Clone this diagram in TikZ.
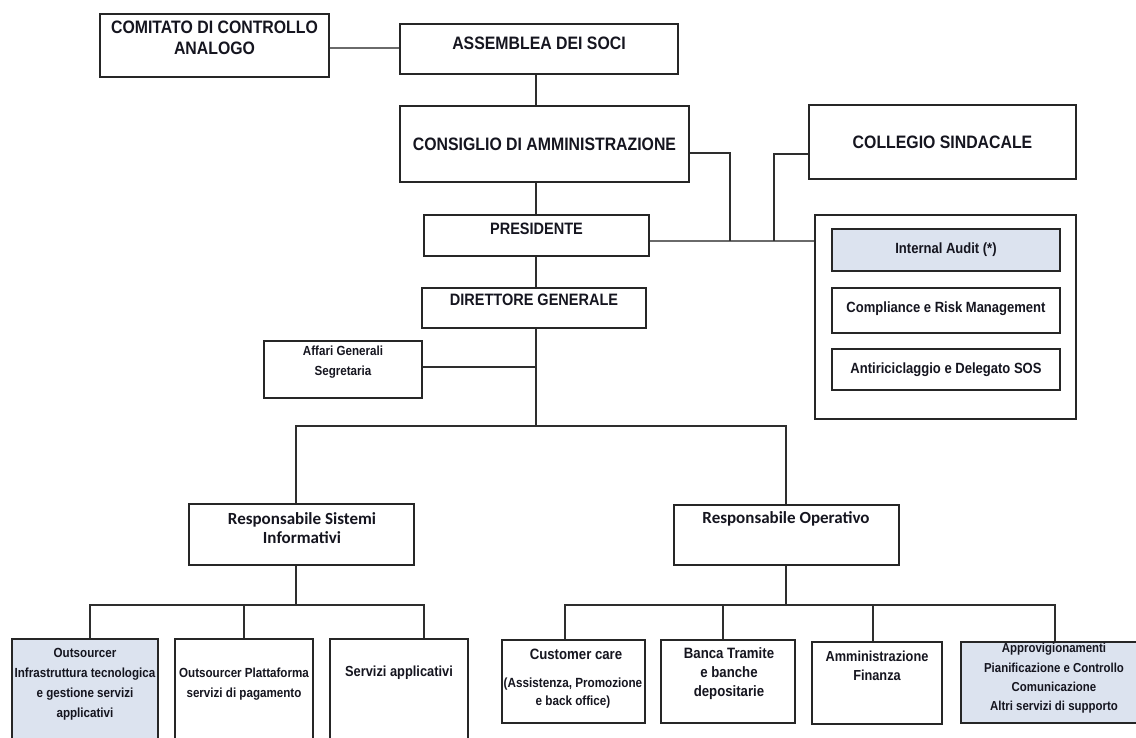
\documentclass[tikz,border=0pt]{standalone}
\usepackage{fontspec}
\setmainfont{Liberation Sans}[FakeStretch=0.88]
\newfontfamily\carl{Carlito}
\usetikzlibrary{fit}
\definecolor{linec}{HTML}{2E2E2E}
\definecolor{boxc}{HTML}{262626}
\definecolor{shadec}{HTML}{DCE3EF}
\definecolor{txtc}{HTML}{15151F}
\definecolor{softc}{HTML}{6A6A6A}
\begin{document}
\begin{tikzpicture}[x=1pt,y=-1pt,
  box/.style={draw=boxc, line width=1.7pt, inner sep=0pt, fill=white},
  shaded/.style={box, fill=shadec},
  conn/.style={draw=linec, line width=1.3pt},
  softconn/.style={draw=softc, line width=1.4pt},
  txt/.style={text=txtc, align=center, inner sep=0pt},
  fbig/.style={font=\fontsize{18}{21}\selectfont\bfseries},
  fmid/.style={font=\fontsize{16.5}{20}\selectfont\bfseries},
  fctl/.style={font=\fontsize{14.8}{18}\selectfont\bfseries},
  fsmall/.style={font=\fontsize{13.2}{20}\selectfont\bfseries},
  fcal/.style={font=\carl\fontsize{17}{19}\selectfont\bfseries},
]
\fill[white] (0,0) rectangle (1136,738);
\useasboundingbox (0,0) rectangle (1136,738);

% ---------- top ----------
\node[box, fit={(100,14)(329,77)}] (com) {};
\node[txt, fbig] (comT) at (214.5,37.5) {COMITATO DI CONTROLLO\\ANALOGO};
\node[box, fit={(400,24)(678,74)}] (ass) {};
\node[txt, fbig] (assT) at (539,43) {ASSEMBLEA DEI SOCI};
\node[box, fit={(400,106)(689,182)}] (cda) {};
\node[txt, fbig] (cdaT) at (544.5,144) {CONSIGLIO DI AMMINISTRAZIONE};
\node[box, fit={(809,105)(1076,179)}] (col) {};
\node[txt, fbig] (colT) at (942.5,142) {COLLEGIO SINDACALE};

\node[box, fit={(424,215)(649,256)}] (pres) {};
\node[txt, fmid] (presT) at (536.5,229) {PRESIDENTE};
\node[box, fit={(422,288)(646,328)}] (dir) {};
\node[txt, fmid] (dirT) at (534,300) {DIRETTORE GENERALE};

% ---------- control functions ----------
\node[box, fit={(815,215)(1076,419)}] (ctrl) {};
\node[shaded, fit={(832,229)(1060,271)}] (ia) {};
\node[txt, fctl] (iaT) at (946,250) {Internal Audit (*)};
\node[box, fit={(832,288)(1060,333)}] (cmp) {};
\node[txt, fctl] (cmpT) at (946,309) {Compliance e Risk Management};
\node[box, fit={(832,349)(1060,390)}] (anti) {};
\node[txt, fctl] (antiT) at (946,369.5) {Antiriciclaggio e Delegato SOS};

% ---------- staff ----------
\node[box, fit={(264,341)(422,398)}] (aff) {};
\node[txt, fsmall] (affT) at (343,362.5) {Affari Generali\\Segretaria};

% ---------- second level ----------
\node[box, fit={(189,504)(414,565)}] (rsi) {};
\node[txt, fcal] (rsiT) at (302,528.5) {Responsabile Sistemi\\Informativi};
\node[box, fit={(674,505)(899,565)}] (ro) {};
\node[txt, fcal] (roT) at (786,519) {Responsabile Operativo};

% ---------- bottom left ----------
\node[shaded, fit={(12,639)(158,750)}] (o1) {};
\node[txt, fsmall] (o1T) at (85,684.5) {Outsourcer\\Infrastruttura tecnologica\\e gestione servizi\\applicativi};
\node[box, fit={(175,639)(313,750)}] (o2) {};
\node[txt, font=\fontsize{13.2}{19.5}\selectfont\bfseries] (o2T) at (244,684) {Outsourcer Plattaforma\\servizi di pagamento};
\node[box, fit={(330,639)(468,750)}] (o3) {};
\node[txt, font=\fontsize{14.6}{19}\selectfont\bfseries] (o3T) at (399,673) {Servizi applicativi};

% ---------- bottom right ----------
\node[box, fit={(502,640)(645,723)}] (cc) {};
\node[txt, font=\fontsize{15}{18}\selectfont\bfseries] (ccT) at (576,654) {Customer care};
\node[txt, font=\fontsize{13.3}{18}\selectfont\bfseries] (ccS) at (573,693) {(Assistenza, Promozione\\e back office)};
\node[box, fit={(661,640)(795,723)}] (bt) {};
\node[txt, font=\fontsize{15}{19}\selectfont\bfseries] (btT) at (729,673.5) {Banca Tramite\\e banche\\depositarie};
\node[box, fit={(812,642)(942,724)}] (am) {};
\node[txt, font=\fontsize{14.5}{19}\selectfont\bfseries] (amT) at (877,665.5) {Amministrazione\\Finanza};
\node[shaded, fit={(961,642)(1147,723)}] (ap) {};
\node[txt, font=\fontsize{13}{19.3}\selectfont\bfseries] (apT) at (1054,678.5) {Approvigionamenti\\Pianificazione e Controllo\\Comunicazione\\Altri servizi di supporto};

% ---------- connectors ----------
\coordinate (aj) at (0,48);
\draw[softconn, line width=2pt] (com.east |- aj) -- (ass.west |- aj);

\coordinate (sp) at (536,0);
\draw[conn] (ass.south -| sp) -- (cda.north -| sp);
\draw[conn] (cda.south -| sp) -- (pres.north -| sp);
\draw[conn] (pres.south -| sp) -- (dir.north -| sp);
\coordinate (bus1) at (536,426);
\draw[conn] (dir.south -| sp) -- (bus1);
\coordinate (affj) at (536,367);
\draw[conn] (aff.east |- affj) -- (affj);

% board / auditors to control functions
\coordinate (pj) at (0,241);
\coordinate (cj) at (730,153);
\coordinate (kj) at (774,154);
\draw[softconn] (pres.east |- pj) -- (ctrl.west |- pj);
\draw[conn] (cda.east |- cj) -- (cj) -- (cj |- pj);
\draw[conn] (col.west |- kj) -- (kj) -- (kj |- pj);

% to second level
\coordinate (rd) at (296,426);
\coordinate (od) at (786,426);
\draw[conn] (rd |- rsi.north) -- (rd) -- (od) -- (od |- ro.north);

% left sub-bus
\coordinate (lb) at (296,605);
\coordinate (l1) at (90,605);
\coordinate (l2) at (244,605);
\coordinate (l3) at (424,605);
\draw[conn] (lb |- rsi.south) -- (lb);
\draw[conn] (l1 |- o1.north) -- (l1) -- (l3) -- (l3 |- o3.north);
\draw[conn] (l2) -- (l2 |- o2.north);

% right sub-bus
\coordinate (rb) at (786,605);
\coordinate (r1) at (565,605);
\coordinate (r2) at (723,605);
\coordinate (r3) at (873,605);
\coordinate (r4) at (1055,605);
\draw[conn] (rb |- ro.south) -- (rb);
\draw[conn] (r1 |- cc.north) -- (r1) -- (r4) -- (r4 |- ap.north);
\draw[conn] (r2) -- (r2 |- bt.north);
\draw[conn] (r3) -- (r3 |- am.north);
\end{tikzpicture}
\end{document}
